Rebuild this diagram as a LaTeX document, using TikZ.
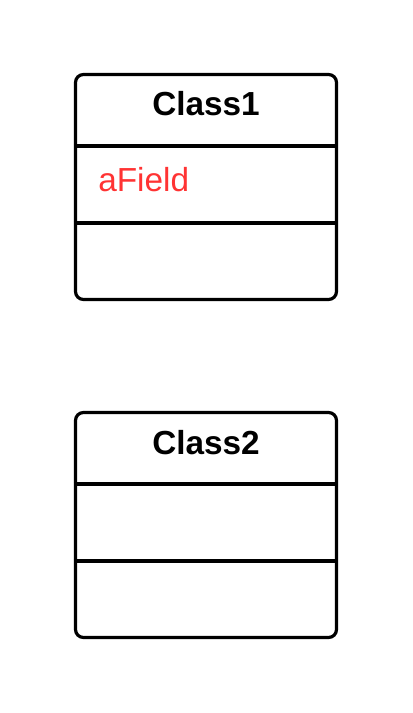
\documentclass[tikz,border=0pt]{standalone}
\usepackage{fontspec}
\setmainfont{Liberation Sans}
\usetikzlibrary{positioning}
\definecolor{fieldred}{RGB}{255,51,51}
\tikzset{
  classbox/.style  = {draw=black, line width=2.4pt, rounded corners=6pt,
                      minimum width=195.75pt, minimum height=168.75pt, inner sep=0pt},
  divider/.style   = {draw=black, line width=2.4pt},
  classname/.style = {font=\fontsize{25}{29}\selectfont\bfseries, anchor=base, inner sep=0pt},
  field/.style     = {font=\fontsize{25}{29}\selectfont, text=fieldred, anchor=base west, inner sep=0pt},
}
\begin{document}
\begin{tikzpicture}[x=0.75pt, y=-0.75pt]
  \useasboundingbox (0,0) rectangle (413,713);
  % first class
  \node[classbox] (class1) at (206,187) {};
  \node[classname] (name1) at (206,116) {Class1};
  \node[field] (afield) at (98,191) {aField};
  \draw[divider] (class1.west |- 0,146) -- (class1.east |- 0,146);
  \draw[divider] (class1.west |- 0,223) -- (class1.east |- 0,223);
  % second class
  \node[classbox] (class2) at (206,525) {};
  \node[classname] (name2) at (206,454) {Class2};
  \draw[divider] (class2.west |- 0,484) -- (class2.east |- 0,484);
  \draw[divider] (class2.west |- 0,561) -- (class2.east |- 0,561);
\end{tikzpicture}
\end{document}
